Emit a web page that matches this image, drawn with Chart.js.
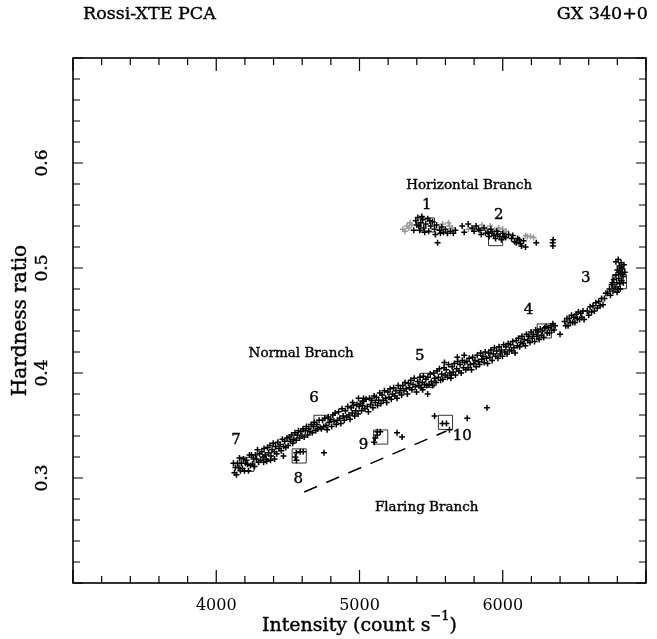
<!DOCTYPE html>
<html>
<head>
<meta charset="utf-8">
<script src="https://cdn.jsdelivr.net/npm/chart.js@4.4.1/dist/chart.umd.min.js"></script>
<style>
  html, body { margin: 0; padding: 0; background: #fff; }
  #wrap { width: 657px; height: 639px; }
</style>
</head>
<body>
<div id="wrap"><canvas id="myGraph"></canvas></div>
<script>
// intensity (count/s) vs hardness ratio, GX 340+0

const normalBranch = [
  [4120,0.314],[4127,0.305],[4134,0.310],[4141,0.303],[4148,0.314],[4155,0.310],[4162,0.319],[4169,0.307],
  [4176,0.314],[4183,0.309],[4190,0.318],[4197,0.307],[4204,0.314],[4211,0.317],[4218,0.313],[4225,0.307],
  [4232,0.322],[4239,0.312],[4246,0.322],[4253,0.313],[4260,0.318],[4267,0.311],[4274,0.322],[4281,0.318],
  [4288,0.327],[4295,0.315],
  [4302,0.323],[4310,0.317],[4318,0.325],[4326,0.320],[4334,0.328],[4342,0.322],[4350,0.318],[4358,0.329],
  [4366,0.324],[4374,0.331],[4382,0.321],[4390,0.327],[4398,0.333],[4406,0.325],[4414,0.330],[4422,0.323],
  [4430,0.334],[4438,0.328],[4446,0.332],[4454,0.326],[4462,0.337],[4470,0.330],[4478,0.335],[4486,0.329],
  [4494,0.338],
  [4502,0.331],[4510,0.339],[4518,0.335],[4526,0.341],[4534,0.333],[4542,0.337],[4550,0.343],[4558,0.336],
  [4566,0.341],[4574,0.345],[4582,0.338],[4590,0.344],[4598,0.340],[4606,0.347],[4614,0.339],[4622,0.345],
  [4630,0.349],[4638,0.341],[4646,0.347],[4654,0.344],[4662,0.351],[4670,0.343],[4678,0.349],[4686,0.353],
  [4694,0.345],[4702,0.351],[4710,0.347],[4718,0.355],[4726,0.348],
  [4734,0.347],[4742,0.355],[4750,0.349],[4758,0.357],[4766,0.350],[4774,0.346],[4782,0.358],[4790,0.353],
  [4798,0.356],[4806,0.349],[4814,0.360],[4822,0.354],[4830,0.362],[4838,0.351],[4846,0.355],[4854,0.363],
  [4862,0.357],[4870,0.352],[4878,0.366],[4886,0.359],[4894,0.355],[4902,0.364],[4910,0.358],[4918,0.368],
  [4926,0.360],[4934,0.356],[4942,0.367],[4950,0.362],[4958,0.369],[4966,0.359],[4974,0.364],[4982,0.370],
  [4990,0.361],[4998,0.368],[4952,0.372],[4993,0.376],[5021,0.373],[5028,0.376],
  [5006,0.371],[5014,0.364],[5022,0.369],[5030,0.373],[5038,0.366],[5046,0.375],[5054,0.368],[5062,0.363],
  [5070,0.376],[5078,0.370],[5086,0.374],[5094,0.367],[5102,0.378],[5110,0.372],[5118,0.377],[5126,0.369],
  [5134,0.374],[5142,0.381],[5150,0.371],[5158,0.379],[5166,0.374],[5174,0.383],[5182,0.376],[5190,0.372],
  [5198,0.382],[5206,0.377],[5214,0.385],[5222,0.375],[5230,0.380],[5238,0.386],[5246,0.378],[5254,0.383],
  [5262,0.376],[5270,0.388],[5278,0.381],[5286,0.385],[5294,0.379],
  [5302,0.388],[5310,0.383],[5318,0.391],[5326,0.385],[5334,0.380],[5342,0.390],[5350,0.386],[5358,0.393],
  [5366,0.384],[5374,0.389],[5382,0.395],[5390,0.387],[5398,0.382],[5406,0.392],[5414,0.388],[5422,0.396],
  [5430,0.386],[5438,0.391],[5446,0.397],[5454,0.389],[5462,0.394],[5470,0.388],[5441,0.384],[5476,0.380],
  [5478,0.396],[5486,0.389],[5494,0.399],[5502,0.392],[5510,0.388],[5518,0.400],[5526,0.395],[5534,0.391],
  [5542,0.402],[5550,0.396],[5558,0.404],[5566,0.393],[5574,0.399],[5582,0.394],[5590,0.405],[5598,0.398],
  [5606,0.403],[5614,0.396],[5622,0.408],[5630,0.400],[5638,0.395],[5646,0.406],[5654,0.401],[5662,0.409],
  [5670,0.398],[5678,0.404],[5686,0.411],[5694,0.402],[5702,0.408],[5710,0.400],[5718,0.412],[5726,0.405],
  [5734,0.410],[5742,0.403],[5593,0.410],[5641,0.398],[5683,0.415],[5731,0.417],
  [5750,0.411],[5758,0.405],[5766,0.414],[5774,0.408],[5782,0.403],[5790,0.415],[5798,0.409],[5806,0.412],
  [5814,0.406],[5822,0.417],[5830,0.411],[5838,0.408],[5846,0.419],[5854,0.413],[5862,0.416],[5870,0.410],
  [5878,0.420],[5886,0.414],[5894,0.409],[5902,0.419],[5910,0.415],[5918,0.422],[5926,0.412],[5934,0.418],
  [5942,0.424],[5950,0.416],[5958,0.421],[5966,0.414],[5974,0.425],[5982,0.418],[5990,0.422],[5998,0.416],
  [6006,0.427],[6014,0.420],[6022,0.425],[6030,0.418],[6038,0.428],[6046,0.422],
  [6054,0.427],[6062,0.421],[6070,0.430],[6078,0.424],[6086,0.419],[6094,0.431],[6102,0.426],[6110,0.433],
  [6118,0.425],[6126,0.429],[6134,0.435],[6142,0.428],[6150,0.432],[6158,0.426],[6166,0.437],[6174,0.431],
  [6182,0.435],[6190,0.429],[6198,0.439],[6206,0.433],[6214,0.437],[6222,0.430],[6230,0.441],[6238,0.435],
  [6246,0.439],[6254,0.432],[6262,0.442],[6270,0.436],[6278,0.440],[6286,0.434],[6294,0.443],
  [6302,0.444],[6310,0.438],[6318,0.443],[6326,0.438],[6334,0.445],[6342,0.441],[6350,0.447],[6358,0.441],
  [6366,0.445],[6400,0.437],
  [6432,0.449],[6440,0.445],[6448,0.452],[6456,0.445],[6464,0.452],[6472,0.448],[6480,0.455],[6488,0.448],
  [6496,0.453],[6504,0.448],[6512,0.456],[6520,0.452],[6528,0.458],[6536,0.451],[6544,0.457],[6552,0.453],
  [6560,0.459],[6568,0.451],
  [6590,0.459],[6600,0.455],[6610,0.463],[6620,0.458],[6630,0.464],[6640,0.459],[6650,0.467],[6660,0.462],
  [6670,0.468],[6680,0.464],[6690,0.471],[6700,0.465],[6710,0.471],[6720,0.476],
  [6732,0.476],[6745,0.480],[6752,0.474],[6760,0.484],[6770,0.478],[6776,0.489],[6784,0.482],[6790,0.493],
  [6796,0.486],[6800,0.498],[6806,0.480],[6810,0.490],[6814,0.502],[6818,0.485],[6822,0.495],[6826,0.505],
  [6830,0.488],[6836,0.499],[6840,0.492],[6846,0.503],[6852,0.496],[6790,0.506],[6806,0.508],[6798,0.477],
  [6820,0.480],[6834,0.494],[6812,0.496],[6828,0.500],[6766,0.486],[6842,0.486]
];

const horizontalBlack = [
  [5379,0.536],[5393,0.545],[5407,0.548],[5414,0.540],[5428,0.543],[5441,0.546],[5448,0.538],[5462,0.542],
  [5476,0.547],[5483,0.535],[5497,0.540],[5510,0.544],[5524,0.537],[5538,0.541],[5545,0.524],[5559,0.536],
  [5573,0.539],[5586,0.534],[5600,0.537],[5614,0.533],[5635,0.535],[5655,0.533],[5669,0.536],[5420,0.536],
  [5455,0.534],[5490,0.545],[5530,0.532],[5565,0.533],[5435,0.549],[5400,0.541],
  [5717,0.540],[5731,0.534],[5759,0.542],[5786,0.538],[5814,0.540],[5841,0.536],[5869,0.538],[5897,0.534],
  [5917,0.537],[5938,0.531],[5959,0.535],[5979,0.530],[6000,0.533],[6021,0.529],[6041,0.532],[6062,0.528],
  [6083,0.525],[6104,0.528],[6124,0.523],[6145,0.526],[6159,0.520],[5880,0.533],[5905,0.530],[5925,0.533],
  [5950,0.528],[5965,0.532],[5990,0.527],[6010,0.530],[5850,0.532],[5830,0.537],[5800,0.535],[6070,0.531],
  [6095,0.524],[6115,0.527],[6131,0.521],[6234,0.524],[6352,0.527],[6350,0.521],[6348,0.524]
];

const horizontalGrey = [
  [5303,0.537],[5317,0.535],[5331,0.540],[5345,0.538],[5352,0.543],[5365,0.541],[5580,0.542],[5628,0.540],
  [5648,0.538],[5621,0.543],[5760,0.537],[5855,0.541],[5890,0.537],[5912,0.540],[5945,0.536],[5972,0.538],
  [6000,0.537],[6025,0.535],[6159,0.531],[6172,0.530],[6193,0.530],[6215,0.529]
];

const flaringPoints = [
  [4552,0.320],[4559,0.324],[4586,0.325],[4607,0.325],[4560,0.317],[4752,0.324],[4331,0.315],[4352,0.316],
  [4379,0.317],[4407,0.318],[4469,0.321],[5103,0.334],[5110,0.338],[5124,0.341],[5124,0.344],[5145,0.344],
  [5262,0.343],[5297,0.339],[5524,0.359],[5579,0.352],[5607,0.352],[5628,0.346],[5752,0.357],[5890,0.367]
];

// selected intervals 1..10
const boxNames = ['1','2','3','4','5','6','7','8','9','10'];
const boxX = [5474, 5950, 6814, 6290, 5472, 4731, 4214, 4579, 5148, 5600];
const boxY = [0.541, 0.528, 0.487, 0.440, 0.393, 0.353, 0.313, 0.321, 0.339, 0.353];
const boxLabelX = [5469, 5973, 6580, 6180, 5421, 4683, 4138, 4572, 5028, 5717];
const boxLabelY = [0.560, 0.5505, 0.4905, 0.460, 0.4163, 0.3763, 0.3363, 0.2992, 0.3316, 0.340];

const branchNames = ['Horizontal Branch', 'Normal Branch', 'Flaring Branch'];
const branchX = [5766, 4593, 5469];
const branchY = [0.579, 0.419, 0.2716];

const dashX = [4614, 5607];
const dashY = [0.2867, 0.3448];

const xTicks = [4000, 5000, 6000];
const yTicks = [0.3, 0.4, 0.5, 0.6];

const serif = "'DejaVu Serif', serif";

const toXY = arr => arr.map(p => ({x: p[0], y: p[1]}));

const plusStyle = color => ({
  pointStyle: 'cross',
  pointRadius: 3,
  pointBorderWidth: 1.5,
  borderColor: color,
  pointBorderColor: color,
  backgroundColor: color,
  showLine: false
});

// text drawn a little heavier, like the plotting package's stroke font
function heavyText(ctx, s, x, y) {
  ctx.fillText(s, x, y);
  ctx.strokeText(s, x, y);
}

const frameAndText = {
  id: 'frameAndText',
  afterDraw(chart) {
    const ctx = chart.ctx;
    const a = chart.chartArea;
    const xs = chart.scales.x;
    const ys = chart.scales.y;
    ctx.save();
    ctx.strokeStyle = '#000';
    ctx.lineWidth = 1.6;
    ctx.strokeRect(a.left, a.top, a.right - a.left, a.bottom - a.top);

    // inward ticks on all four sides
    ctx.lineWidth = 1.2;
    ctx.beginPath();
    xs.ticks.forEach(t => {
      const px = xs.getPixelForValue(t.value);
      const len = t.value % 1000 === 0 ? 13 : 7;
      ctx.moveTo(px, a.bottom); ctx.lineTo(px, a.bottom - len);
      ctx.moveTo(px, a.top); ctx.lineTo(px, a.top + len);
    });
    ys.ticks.forEach(t => {
      const py = ys.getPixelForValue(t.value);
      const major = Math.abs(t.value * 10 - Math.round(t.value * 10)) < 1e-6;
      const len = major ? 10 : 7;
      ctx.moveTo(a.left, py); ctx.lineTo(a.left + len, py);
      ctx.moveTo(a.right, py); ctx.lineTo(a.right - len, py);
    });
    ctx.stroke();

    ctx.fillStyle = '#000';
    ctx.lineWidth = 0.4;
    // y tick labels, rotated
    ctx.font = '17px ' + serif;
    ctx.textAlign = 'center';
    ctx.textBaseline = 'middle';
    yTicks.forEach(v => {
      ctx.save();
      ctx.translate(43, ys.getPixelForValue(v));
      ctx.rotate(-Math.PI / 2);
      heavyText(ctx, v.toFixed(1), 0, 0);
      ctx.restore();
    });

    // axis titles
    ctx.font = '20px ' + serif;
    ctx.save();
    ctx.translate(21, (a.top + a.bottom) / 2);
    ctx.rotate(-Math.PI / 2);
    heavyText(ctx, 'Hardness ratio', 0, 0);
    ctx.restore();

    const main = 'Intensity (count s';
    const sup = '\u22121';
    ctx.font = '19px ' + serif;
    const w1 = ctx.measureText(main).width;
    ctx.font = '13px ' + serif;
    const w2 = ctx.measureText(sup).width;
    ctx.font = '19px ' + serif;
    const w3 = ctx.measureText(')').width;
    const x0 = (a.left + a.right) / 2 - (w1 + w2 + w3) / 2;
    const yb = 626;
    ctx.textAlign = 'left';
    heavyText(ctx, main, x0, yb);
    ctx.font = '13px ' + serif;
    heavyText(ctx, sup, x0 + w1, yb - 9);
    ctx.font = '19px ' + serif;
    heavyText(ctx, ')', x0 + w1 + w2, yb);

    // header
    ctx.font = '17.5px ' + serif;
    ctx.textAlign = 'left';
    heavyText(ctx, 'Rossi-XTE PCA', 83, 14);
    ctx.textAlign = 'right';
    heavyText(ctx, 'GX 340+0', 648, 14);

    // interval numbers and branch names
    ctx.textAlign = 'center';
    ctx.font = '15px ' + serif;
    boxNames.forEach((n, i) => {
      heavyText(ctx, n, xs.getPixelForValue(boxLabelX[i]), ys.getPixelForValue(boxLabelY[i]));
    });
    ctx.font = '13.5px ' + serif;
    branchNames.forEach((n, i) => {
      heavyText(ctx, n, xs.getPixelForValue(branchX[i]), ys.getPixelForValue(branchY[i]));
    });
    ctx.restore();
  }
};

const graph = document.getElementById('myGraph');

new Chart(graph, {
  type: 'scatter',
  data: {
    datasets: [
      Object.assign({ label: 'normal', data: toXY(normalBranch) }, plusStyle('#000')),
      Object.assign({ label: 'horizontal', data: toXY(horizontalBlack) }, plusStyle('#000')),
      Object.assign({ label: 'flaring', data: toXY(flaringPoints) }, plusStyle('#000')),
      {
        label: 'boxes',
        data: boxX.map((x, i) => ({x: x, y: boxY[i]})),
        pointStyle: 'rect',
        pointRadius: 10,
        pointBorderWidth: 1,
        pointBorderColor: '#333',
        pointBackgroundColor: 'rgba(0,0,0,0)',
        showLine: false
      },
      Object.assign({ label: 'horizontal grey', data: toXY(horizontalGrey) }, plusStyle('#9a9a9a')),
      {
        label: 'flaring track',
        type: 'line',
        data: dashX.map((x, i) => ({x: x, y: dashY[i]})),
        borderColor: '#000',
        borderWidth: 1.5,
        borderDash: [14, 10],
        pointRadius: 0,
        fill: false
      }
    ]
  },
  options: {
    responsive: true,
    maintainAspectRatio: false,
    animation: false,
    devicePixelRatio: 1,
    layout: { padding: { top: 58, right: 4, left: 0, bottom: 0 } },
    plugins: {
      legend: { display: false },
      tooltip: { enabled: false }
    },
    scales: {
      x: {
        type: 'linear',
        min: 3000,
        max: 7000,
        grid: { display: false },
        border: { display: false },
        ticks: {
          stepSize: 200,
          autoSkip: false,
          maxRotation: 0,
          padding: 5,
          color: '#000',
          font: { family: serif, size: 16 },
          callback: v => xTicks.includes(v) ? String(v) : ''
        },
        afterFit: s => { s.height = 56; s.paddingLeft = 0; s.paddingRight = 0; }
      },
      y: {
        type: 'linear',
        min: 0.2,
        max: 0.7,
        grid: { display: false },
        border: { display: false },
        ticks: {
          stepSize: 0.02,
          autoSkip: false,
          color: 'rgba(0,0,0,0)',
          font: { size: 1 },
          callback: () => ''
        },
        afterFit: s => { s.width = 73; }
      }
    }
  },
  plugins: [frameAndText]
});
</script>
</body>
</html>
